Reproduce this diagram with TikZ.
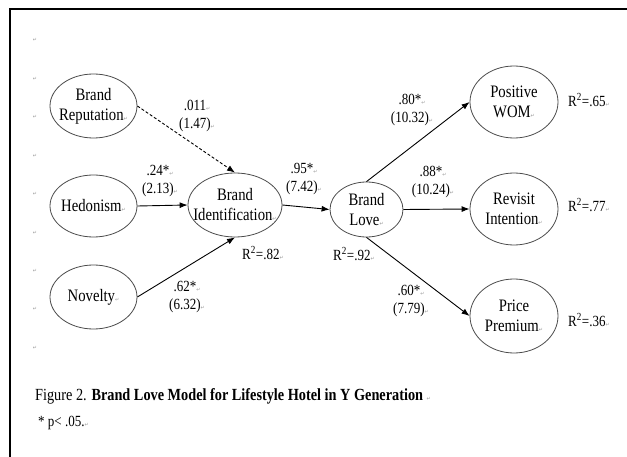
\documentclass[tikz,border=0pt]{standalone}
\usepackage{fontspec}
\setmainfont[FakeStretch=0.84]{Liberation Serif}
\newfontfamily\dejavu{DejaVu Sans}
\usetikzlibrary{shapes.geometric,arrows.meta}
\newcommand{\pmk}{{\color{black!40}\dejavu\fontsize{5}{5}\selectfont ↵}}
\begin{document}
\begin{tikzpicture}[x=1pt,y=-1pt,
 lat/.style={draw=black!70, ellipse, line width=0.8pt, inner sep=-30pt, align=center,
   font=\fontsize{17.5}{20}\selectfont},
 lab/.style={align=center, inner sep=0pt, font=\fontsize{15.5}{18.5}\selectfont},
 arr/.style={-{Latex[length=8pt,width=6pt]}, line width=0.9pt}]
\useasboundingbox (0,0) rectangle (627,457);
\fill[white] (0,0) rectangle (627,457);
\draw[line width=2pt] (10,457) -- (10,9) -- (627,9);
% paragraph marks
\foreach \yy [count=\i] in {40,79,117,156,194,233,271,309,348}
  \node[inner sep=0pt] (pm\i) at (35,\yy) {\pmk};
% latent variables
\node[lat, minimum width=87pt, minimum height=64pt] (br) at (93.5,106) {Brand\\Reputation\pmk};
\node[lat, minimum width=87pt, minimum height=62pt] (hed) at (93.5,206) {Hedonism\pmk};
\node[lat, minimum width=87pt, minimum height=64pt] (nov) at (93.5,297) {Novelty\pmk};
\node[lat, minimum width=94pt, minimum height=64pt] (bi) at (235,205) {Brand\\Identification\pmk};
\node[lat, minimum width=73pt, minimum height=55pt] (bl) at (366.5,209.5) {Brand\\Love\pmk};
\node[lat, minimum width=88pt, minimum height=72pt] (pw) at (514,102) {Positive\\WOM\pmk};
\node[lat, minimum width=88pt, minimum height=72pt] (ri) at (514,209) {Revisit\\Intention\pmk};
\node[lat, minimum width=88pt, minimum height=74pt] (pp) at (514,316) {Price\\Premium\pmk};
% paths
\draw[arr, dash pattern=on 3pt off 2pt] (br.east) -- (bi.north);
\draw[arr] (hed.east) -- (bi.west);
\draw[arr] (nov.east) -- (bi.south);
\draw[arr] (bi.east) -- (bl.west);
\draw[arr] (bl.north) -- (pw.west);
\draw[arr] (bl.east) -- (ri.west);
\draw[arr] (bl.south) -- (pp.west);
% coefficients
\node[lab] (c1) at (197,116) {.011\pmk\\(1.47)\pmk};
\node[lab] (c2) at (160,181) {.24*\pmk\\(2.13)\pmk};
\node[lab] (c3) at (187,297) {.62*\pmk\\(6.32)\pmk};
\node[lab] (c4) at (304,179) {.95*\pmk\\(7.42)\pmk};
\node[lab] (c5) at (412,110) {.80*\pmk\\(10.32)\pmk};
\node[lab] (c6) at (433,182) {.88*\pmk\\(10.24)\pmk};
\node[lab] (c7) at (411,301) {.60*\pmk\\(7.79)\pmk};
% R squared
\node[lab] (r1) at (263,253) {R\textsuperscript{2}=.82\pmk};
\node[lab] (r2) at (354,254) {R\textsuperscript{2}=.92\pmk};
\node[lab] (r3) at (589,100) {R\textsuperscript{2}=.65\pmk};
\node[lab] (r4) at (589,205) {R\textsuperscript{2}=.77\pmk};
\node[lab] (r5) at (589,320) {R\textsuperscript{2}=.36\pmk};
% caption
\node[anchor=base west, inner sep=0pt, font=\fontsize{17}{19}\selectfont] (cap) at (35,400)
  {Figure 2. \textbf{Brand Love Model for Lifestyle Hotel in Y Generation} \pmk};
\node[anchor=base west, inner sep=0pt, font=\fontsize{15.5}{18}\selectfont] (note) at (38,426)
  {* p< .05.\pmk};
\end{tikzpicture}
\end{document}
